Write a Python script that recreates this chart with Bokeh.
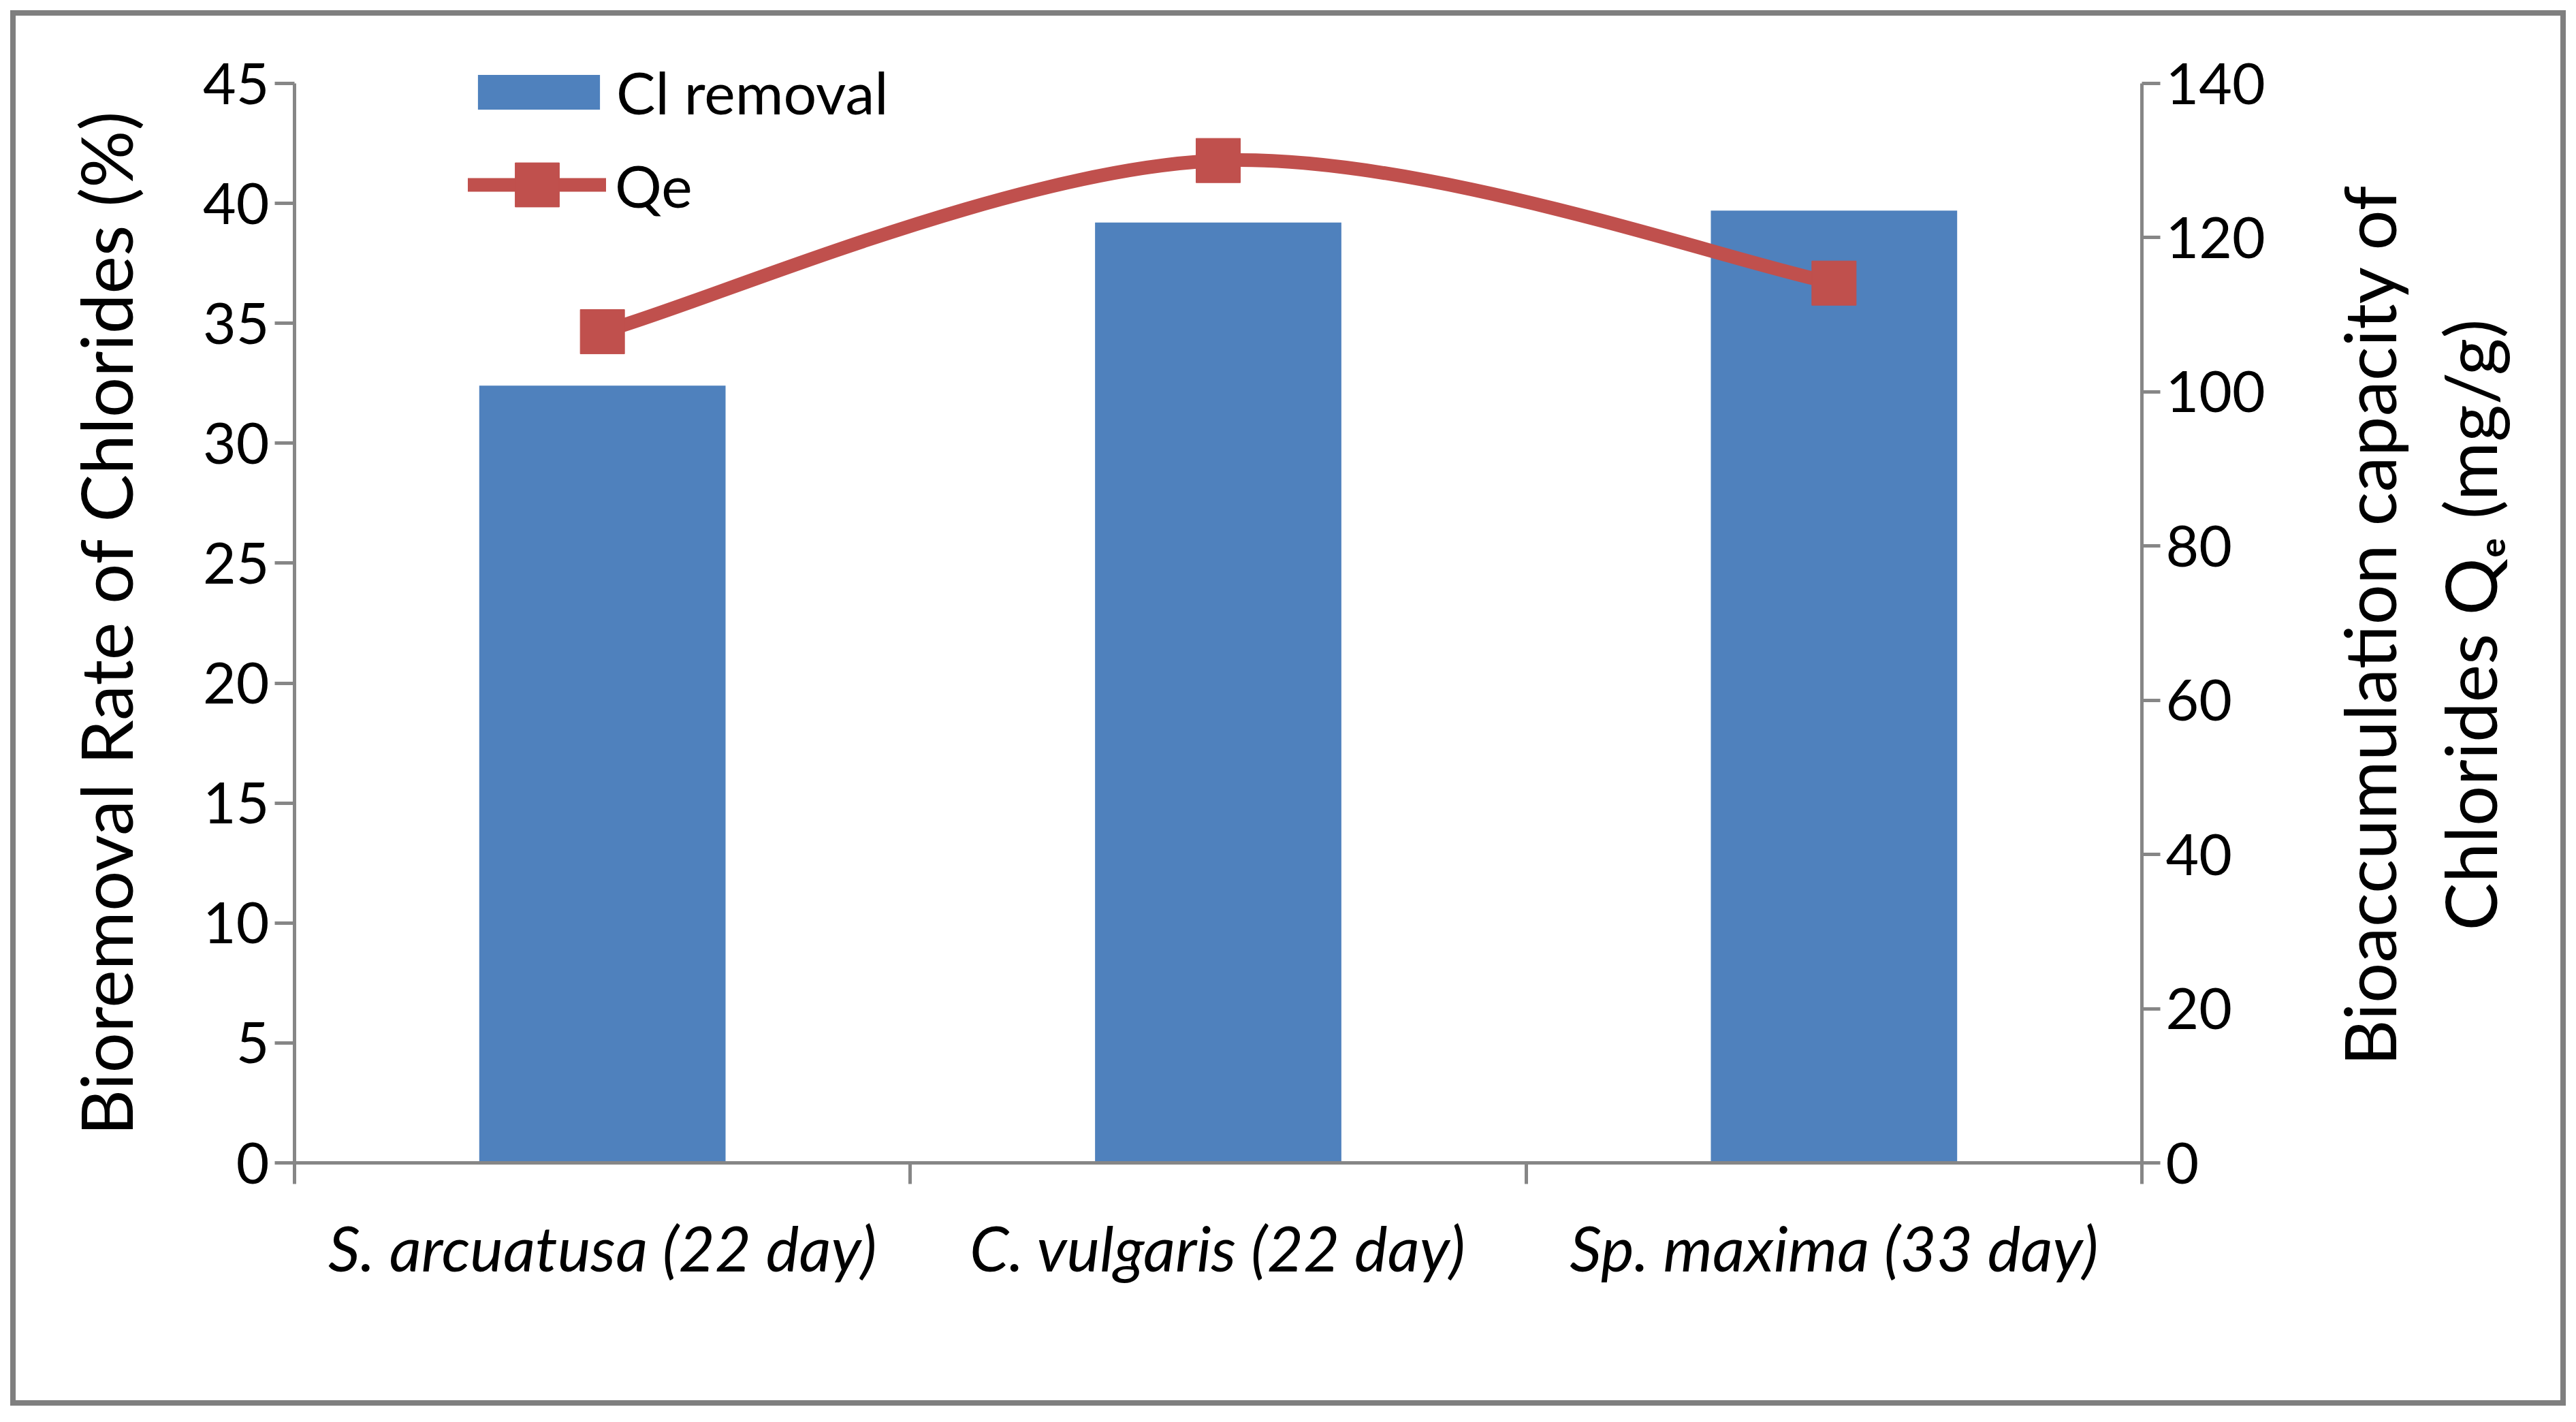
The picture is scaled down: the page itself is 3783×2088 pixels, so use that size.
from bokeh.plotting import figure
from bokeh.models import (Range1d, LinearAxis, FixedTicker, Legend, LegendItem,
                          Label, ColumnDataSource)
from bokeh.embed import file_html
from bokeh.resources import INLINE

# ---------------- data ----------------
categories = ["S. arcuatusa (22 day)", "C. vulgaris (22 day)", "Sp. maxima (33 day)"]
cl_removal = [32.4, 39.2, 39.7]          # Bioremoval rate (%)  - left axis
qe_values = [107.8, 130.0, 114.1]        # Qe (mg/g)            - right axis
left_ticks = [0, 5, 10, 15, 20, 25, 30, 35, 40, 45]
right_ticks = [0, 20, 40, 60, 80, 100, 120, 140]
left_title = "Bioremoval Rate of Chlorides (%)"
right_title = ["Bioaccumulation capacity of", "Chlorides Q\u2091 (mg/g)"]

FONT = "Lato"
BLUE = "#4F81BD"
RED = "#C0504D"
AXIS = "#868686"
TXT = "#000000"

n = len(categories)
x_pos = [i + 0.5 for i in range(n)]
boundaries = list(range(n + 1))

# ---------------- page geometry (px) ----------------
OFF = 15                                   # chart box offset on page
W, H = 3753, 2049                          # chart box size
X0_PX, XN_PX = 432, 3145                   # x of first / last category boundary
Y0_PX, YT_PX = 1707, 122                   # y of value 0 / top tick
FRAME_L, FRAME_R, FRAME_T, FRAME_B = 25, 3755, 25, 2052
xs = n / (XN_PX - X0_PX)
ys = left_ticks[-1] / (Y0_PX - YT_PX)
k_right = right_ticks[-1] / left_ticks[-1]


def px_x(px):
    return (px - X0_PX) * xs


def px_y(py):
    return (Y0_PX - py) * ys


p = figure(width=W, height=H, output_backend="svg", toolbar_location=None,
           x_range=Range1d(px_x(FRAME_L), px_x(FRAME_R)),
           y_range=Range1d(px_y(FRAME_B), px_y(FRAME_T)),
           x_axis_type=None, y_axis_type=None,
           min_border_left=FRAME_L - OFF, min_border_right=OFF + W - FRAME_R,
           min_border_top=FRAME_T - OFF, min_border_bottom=OFF + H - FRAME_B)
p.extra_y_ranges = {"qe": Range1d(px_y(FRAME_B) * k_right, px_y(FRAME_T) * k_right)}
p.outline_line_color = None
p.background_fill_color = "white"
p.border_fill_color = None
p.margin = (OFF, 0, 0, OFF)
p.styles = {"box-shadow": "inset 0 0 0 8px #7F7F7F", "background": "white"}

# ---------------- axes (fixed inside the frame) ----------------
xaxis = LinearAxis(ticker=FixedTicker(ticks=x_pos, minor_ticks=boundaries),
                   major_label_overrides={x: c for x, c in zip(x_pos, categories)},
                   bounds=(0, n), fixed_location=0)
xaxis.axis_line_color = AXIS
xaxis.axis_line_width = 5
xaxis.major_tick_line_color = None
xaxis.major_tick_out = 0
xaxis.major_tick_in = 0
xaxis.minor_tick_line_color = AXIS
xaxis.minor_tick_line_width = 5
xaxis.minor_tick_out = 31
xaxis.minor_tick_in = 0
xaxis.major_label_text_font = FONT
xaxis.major_label_text_font_size = "92px"
xaxis.major_label_text_font_style = "italic"
xaxis.major_label_text_color = TXT
xaxis.major_label_standoff = 37
p.add_layout(xaxis, "below")

yaxis = LinearAxis(ticker=FixedTicker(ticks=left_ticks, minor_ticks=[]),
                   bounds=(left_ticks[0], left_ticks[-1]), fixed_location=0)
yaxis.axis_line_color = AXIS
yaxis.axis_line_width = 5
yaxis.major_tick_line_color = AXIS
yaxis.major_tick_line_width = 5
yaxis.major_tick_out = 29
yaxis.major_tick_in = 0
yaxis.minor_tick_line_color = None
yaxis.major_label_text_font = FONT
yaxis.major_label_text_font_size = "84px"
yaxis.major_label_text_color = TXT
yaxis.major_label_standoff = 8
p.add_layout(yaxis, "left")

raxis = LinearAxis(y_range_name="qe", ticker=FixedTicker(ticks=right_ticks, minor_ticks=[]),
                   bounds=(right_ticks[0], right_ticks[-1]), fixed_location=n)
raxis.axis_line_color = AXIS
raxis.axis_line_width = 5
raxis.major_tick_line_color = AXIS
raxis.major_tick_line_width = 5
raxis.major_tick_out = 27
raxis.major_tick_in = 0
raxis.minor_tick_line_color = None
raxis.major_label_text_font = FONT
raxis.major_label_text_font_size = "84px"
raxis.major_label_text_color = TXT
raxis.major_label_standoff = 8
p.add_layout(raxis, "right")

# ---------------- axis titles ----------------
title_style = dict(angle=90, angle_units="deg", text_align="center", text_baseline="middle",
                   text_font=FONT, text_font_size="105px", text_color=TXT)
p.add_layout(Label(x=px_x(153), y=px_y(914), text=left_title, **title_style))
p.add_layout(Label(x=px_x(3477), y=px_y(917), text=right_title[0], **title_style))
p.add_layout(Label(x=px_x(3625), y=px_y(917), text=right_title[1], **title_style))

# ---------------- bars ----------------
src = ColumnDataSource(dict(x=x_pos, top=cl_removal))
bars = p.vbar(x="x", top="top", width=0.4, bottom=0, source=src,
              fill_color=BLUE, line_color=None)

# ---------------- smoothed Qe line (Catmull-Rom style Bezier) ----------------
pts = list(zip(x_pos, qe_values))
ext = [pts[0]] + pts + [pts[-1]]
bx0, by0, bx1, by1, cx0, cy0, cx1, cy1 = [], [], [], [], [], [], [], []
for i in range(n - 1):
    pm, p0, p1, p2 = ext[i], ext[i + 1], ext[i + 2], ext[i + 3]
    bx0.append(p0[0]); by0.append(p0[1])
    bx1.append(p1[0]); by1.append(p1[1])
    cx0.append(p0[0] + (p1[0] - pm[0]) / 6); cy0.append(p0[1] + (p1[1] - pm[1]) / 6)
    cx1.append(p1[0] - (p2[0] - p0[0]) / 6); cy1.append(p1[1] - (p2[1] - p0[1]) / 6)
curve = p.bezier(x0=bx0, y0=by0, x1=bx1, y1=by1, cx0=cx0, cy0=cy0, cx1=cx1, cy1=cy1,
                 line_color=RED, line_width=20, line_cap="round", y_range_name="qe")
marks = p.scatter(x=x_pos, y=qe_values, marker="square", size=65,
                  fill_color=RED, line_color=RED, y_range_name="qe")

# ---------------- legends ----------------
common = dict(padding=0, margin=0, spacing=0, border_line_color=None,
              background_fill_alpha=0, label_text_font=FONT,
              label_text_font_size="86px", label_text_color=TXT)
leg1 = Legend(items=[LegendItem(label="Cl removal", renderers=[bars])],
              location=(679 - FRAME_L, FRAME_B - 186), glyph_width=224, glyph_height=64,
              label_standoff=2, **common)
leg2 = Legend(items=[LegendItem(label="Qe", renderers=[curve, marks])],
              location=(687 - FRAME_L, FRAME_B - 352), glyph_width=203, glyph_height=162,
              label_standoff=13, **common)
p.add_layout(leg1)
p.add_layout(leg2)

open("out.html", "w").write(file_html(p, INLINE))
